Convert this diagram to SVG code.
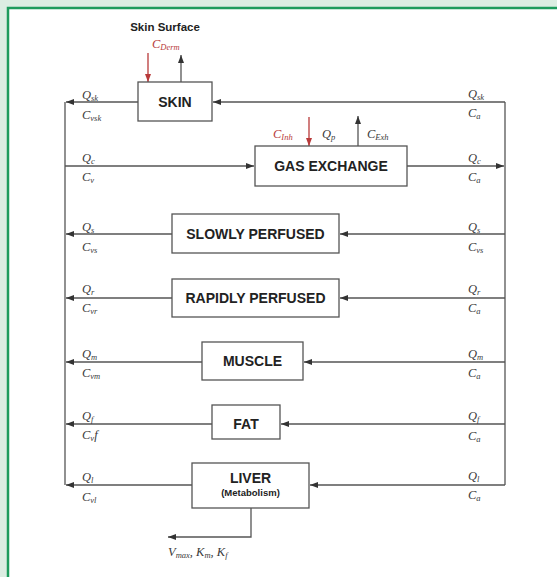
<svg xmlns="http://www.w3.org/2000/svg" width="557" height="577" viewBox="0 0 557 577">
<style>
.box rect{fill:#fff;stroke:#555;stroke-width:1.3}
.box text{font-family:"Liberation Sans",Arial,sans-serif;font-weight:bold;fill:#222;text-anchor:middle}
.ln{fill:none;stroke:#555;stroke-width:1.3}
.arr{marker-end:url(#ah)}
.red{stroke:#b83a3a;marker-end:url(#ahr)}
.m{font-family:"Liberation Serif","Times New Roman",serif;font-style:italic;font-size:12.5px;fill:#3a3a3a}
.m tspan.s{font-size:8.5px}
.r{fill:#b83a3a}
</style>
<defs>
<marker id="ah" markerUnits="userSpaceOnUse" markerWidth="9" markerHeight="7" refX="8" refY="3" orient="auto"><path d="M0,0 L8,3 L0,6 z" fill="#333"/></marker>
<marker id="ahr" markerUnits="userSpaceOnUse" markerWidth="9" markerHeight="7" refX="8" refY="3" orient="auto"><path d="M0,0 L8,3 L0,6 z" fill="#b83a3a"/></marker>
</defs>
<rect x="0" y="0" width="557" height="577" fill="#dcede2"/>
<rect x="8" y="8" width="549" height="569" fill="#fff"/>
<path d="M8,577 V8 H557" fill="none" stroke="#1e9b5c" stroke-width="2.5"/>

<text x="165" y="31" font-family="'Liberation Sans',Arial,sans-serif" font-weight="bold" font-size="11.5" fill="#222" text-anchor="middle">Skin Surface</text>

<g id="connectors">
<path class="ln" d="M65,102 V485"/>
<path class="ln" d="M505,102 V485"/>
<path class="ln arr" d="M138,102 H66"/>
<path class="ln arr" d="M505,102 H213"/>
<path class="ln arr" d="M65,166 H254"/>
<path class="ln arr" d="M407,166 H504"/>
<path class="ln arr" d="M505,234 H340"/>
<path class="ln arr" d="M172,234 H66"/>
<path class="ln arr" d="M505,298 H340"/>
<path class="ln arr" d="M172,298 H66"/>
<path class="ln arr" d="M505,362 H304"/>
<path class="ln arr" d="M202,362 H66"/>
<path class="ln arr" d="M505,424 H281"/>
<path class="ln arr" d="M212,424 H66"/>
<path class="ln arr" d="M505,485 H310"/>
<path class="ln arr" d="M192,485 H66"/>
<path class="ln arr" d="M251,508 V537 H168"/>
<path class="ln red" d="M148,53 V82"/>
<path class="ln arr" d="M181,82 V55"/>
<path class="ln red" d="M309,117 V146"/>
<path class="ln arr" d="M358,146 V116"/>
</g>

<g id="skin" class="box"><rect x="138" y="82" width="74" height="39"/><text x="175" y="107" font-size="14">SKIN</text></g>
<g id="gas-exchange" class="box"><rect x="255" y="146" width="152" height="40"/><text x="331" y="171" font-size="14">GAS EXCHANGE</text></g>
<g id="slowly-perfused" class="box"><rect x="172" y="214" width="167" height="39"/><text x="255.5" y="239" font-size="14">SLOWLY PERFUSED</text></g>
<g id="rapidly-perfused" class="box"><rect x="172" y="279" width="167" height="38"/><text x="255.5" y="303" font-size="14">RAPIDLY PERFUSED</text></g>
<g id="muscle" class="box"><rect x="202" y="342" width="101" height="38"/><text x="252.5" y="366" font-size="14">MUSCLE</text></g>
<g id="fat" class="box"><rect x="212" y="405" width="68" height="34"/><text x="246" y="429" font-size="14">FAT</text></g>
<g id="liver" class="box"><rect x="192" y="463" width="117" height="45"/><text x="250.5" y="483" font-size="14">LIVER</text><text x="250.5" y="496" font-size="9.5">(Metabolism)</text></g>

<g id="labels">
<text class="m r" x="152" y="48">C<tspan class="s" dy="2">Derm</tspan></text>
<text class="m r" x="273" y="138">C<tspan class="s" dy="2">Inh</tspan></text>
<text class="m" x="322" y="138">Q<tspan class="s" dy="2">p</tspan></text>
<text class="m" x="367" y="138">C<tspan class="s" dy="2">Exh</tspan></text>

<text class="m" x="82" y="99">Q<tspan class="s" dy="2">sk</tspan></text>
<text class="m" x="82" y="119">C<tspan class="s" dy="2">vsk</tspan></text>
<text class="m" x="82" y="162">Q<tspan class="s" dy="2">c</tspan></text>
<text class="m" x="82" y="181">C<tspan class="s" dy="2">v</tspan></text>
<text class="m" x="82" y="231">Q<tspan class="s" dy="2">s</tspan></text>
<text class="m" x="82" y="251">C<tspan class="s" dy="2">vs</tspan></text>
<text class="m" x="82" y="293">Q<tspan class="s" dy="2">r</tspan></text>
<text class="m" x="82" y="312">C<tspan class="s" dy="2">vr</tspan></text>
<text class="m" x="82" y="358">Q<tspan class="s" dy="2">m</tspan></text>
<text class="m" x="82" y="377">C<tspan class="s" dy="2">vm</tspan></text>
<text class="m" x="82" y="420">Q<tspan class="s" dy="2">f</tspan></text>
<text class="m" x="82" y="439">C<tspan class="s" dy="2">v</tspan><tspan dy="-2">f</tspan></text>
<text class="m" x="82" y="481">Q<tspan class="s" dy="2">l</tspan></text>
<text class="m" x="82" y="501">C<tspan class="s" dy="2">vl</tspan></text>

<text class="m" x="468" y="98">Q<tspan class="s" dy="2">sk</tspan></text>
<text class="m" x="468" y="117">C<tspan class="s" dy="2">a</tspan></text>
<text class="m" x="468" y="162">Q<tspan class="s" dy="2">c</tspan></text>
<text class="m" x="468" y="181">C<tspan class="s" dy="2">a</tspan></text>
<text class="m" x="468" y="231">Q<tspan class="s" dy="2">s</tspan></text>
<text class="m" x="468" y="251">C<tspan class="s" dy="2">vs</tspan></text>
<text class="m" x="468" y="293">Q<tspan class="s" dy="2">r</tspan></text>
<text class="m" x="468" y="312">C<tspan class="s" dy="2">a</tspan></text>
<text class="m" x="468" y="358">Q<tspan class="s" dy="2">m</tspan></text>
<text class="m" x="468" y="377">C<tspan class="s" dy="2">a</tspan></text>
<text class="m" x="468" y="420">Q<tspan class="s" dy="2">f</tspan></text>
<text class="m" x="468" y="440">C<tspan class="s" dy="2">a</tspan></text>
<text class="m" x="468" y="480">Q<tspan class="s" dy="2">l</tspan></text>
<text class="m" x="468" y="499">C<tspan class="s" dy="2">a</tspan></text>

<text class="m" x="168" y="556">V<tspan class="s" dy="2">max</tspan><tspan dy="-2">, K</tspan><tspan class="s" dy="2">m</tspan><tspan dy="-2">, K</tspan><tspan class="s" dy="2">f</tspan></text>
</g>
</svg>
